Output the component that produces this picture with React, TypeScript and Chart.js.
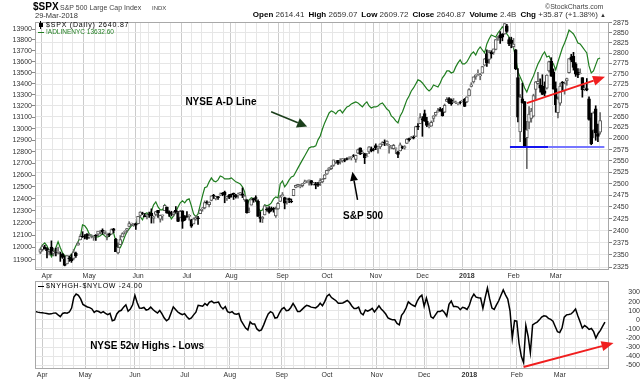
import React, { useEffect, useRef } from 'react';
import { Chart, registerables } from 'chart.js';

Chart.register(...registerables);

const FONT = '"Liberation Sans", Arial, Helvetica, sans-serif';

// ---- calendar ----
const FIRST_DAY = '2017-03-29';
const LAST_DAY = '2018-03-29';
const HOLIDAYS = ['2017-04-14', '2017-05-29', '2017-07-04', '2017-09-04', '2017-11-23', '2017-12-25', '2018-01-01', '2018-01-15', '2018-02-19'];
const SHORT_MONTHS = ['Jan', 'Feb', 'Mar', 'Apr', 'May', 'Jun', 'Jul', 'Aug', 'Sep', 'Oct', 'Nov', 'Dec'];

// ---- $SPX daily OHLC ----
const OPEN = [
  2356, 2361, 2366,
  2363, 2357, 2366, 2353, 2356, 2357, 2354, 2352, 2342, 2332, 2343, 2346, 2343, 2354, 2370, 2381, 2389, 2389, 2393,
  2388, 2391, 2386, 2391, 2393, 2399, 2401, 2396, 2394, 2393, 2393, 2404, 2382, 2354, 2371, 2387, 2397, 2401, 2409, 2414, 2411, 2415,
  2415, 2432, 2437, 2432, 2432, 2434, 2437, 2426, 2434, 2443, 2424, 2431, 2442, 2450, 2439, 2437, 2434, 2443, 2437, 2428, 2442, 2429,
  2431, 2430, 2423, 2414, 2425, 2427, 2436, 2446, 2448, 2460, 2455, 2464, 2475, 2467, 2472, 2477, 2479, 2482, 2469, 2475,
  2477, 2479, 2476, 2476, 2477, 2478, 2465, 2465, 2441, 2454, 2468, 2470, 2462, 2428, 2425, 2433, 2445, 2447, 2444, 2447, 2431, 2446, 2462,
  2474, 2470, 2464, 2468, 2462, 2474, 2492, 2495, 2494, 2496, 2502, 2506, 2507, 2507, 2498, 2500, 2500, 2503, 2504, 2511,
  2521, 2530, 2533, 2540, 2547, 2551, 2549, 2550, 2552, 2555, 2556, 2557, 2562, 2553, 2567, 2579, 2568, 2566, 2560, 2570, 2577, 2576,
  2584, 2579, 2581, 2587, 2592, 2588, 2584, 2580, 2577, 2578, 2569, 2572, 2582, 2579, 2589, 2600, 2600, 2603, 2605, 2628, 2634,
  2645, 2657, 2639, 2627, 2628, 2646, 2653, 2661, 2667, 2665, 2660, 2685, 2692, 2689, 2683, 2683, 2680, 2683, 2687, 2690,
  2684, 2698, 2720, 2731, 2743, 2751, 2745, 2752, 2771, 2799, 2785, 2802, 2802, 2809, 2835, 2845, 2846, 2847, 2867, 2833, 2832,
  2816, 2808, 2741, 2615, 2691, 2685, 2602, 2637, 2646, 2651, 2713, 2727, 2723, 2721, 2710, 2716, 2757, 2780, 2754,
  2715, 2659, 2681, 2730, 2710, 2733, 2753, 2791, 2792, 2774, 2754, 2751, 2741, 2715, 2715, 2691, 2647, 2619, 2668, 2611, 2614.4,
];
const HIGH = [
  2363, 2370, 2370,
  2365, 2361, 2379, 2364, 2364, 2366, 2356, 2353, 2348, 2349, 2348, 2352, 2361, 2356, 2377, 2392, 2398, 2392, 2394,
  2394, 2392, 2390, 2392, 2399, 2401, 2404, 2400, 2395, 2395, 2404, 2405, 2384, 2375, 2390, 2396, 2400, 2405, 2419, 2416, 2415, 2416,
  2430, 2440, 2439, 2436, 2435, 2439, 2446, 2431, 2441, 2443, 2433, 2433, 2454, 2450, 2442, 2441, 2441, 2451, 2441, 2443, 2442, 2432,
  2440, 2434, 2424, 2427, 2432, 2430, 2445, 2449, 2463, 2463, 2461, 2474, 2477, 2473, 2473, 2480, 2481, 2484, 2473, 2477,
  2478, 2480, 2477, 2480, 2481, 2491, 2475, 2466, 2448, 2468, 2469, 2474, 2465, 2440, 2430, 2454, 2449, 2451, 2450, 2449, 2450, 2460, 2475,
  2481, 2471, 2469, 2469, 2467, 2488, 2497, 2498, 2498, 2500, 2508, 2507, 2508, 2507, 2503, 2503, 2503, 2511, 2511, 2520,
  2530, 2535, 2540, 2552, 2550, 2551, 2555, 2555, 2555, 2557, 2559, 2559, 2564, 2563, 2576, 2579, 2573, 2567, 2567, 2582, 2581, 2578,
  2588, 2582, 2588, 2593, 2597, 2595, 2587, 2584, 2587, 2579, 2572, 2590, 2583, 2584, 2600, 2601, 2605, 2606, 2628, 2634, 2657,
  2650, 2665, 2648, 2635, 2640, 2652, 2660, 2669, 2671, 2669, 2679, 2694, 2694, 2691, 2692, 2686, 2682, 2685, 2688, 2692,
  2696, 2715, 2729, 2743, 2748, 2760, 2751, 2768, 2787, 2808, 2807, 2806, 2810, 2833, 2842, 2853, 2848, 2873, 2871, 2838, 2839,
  2836, 2809, 2763, 2701, 2728, 2685, 2639, 2673, 2669, 2702, 2732, 2754, 2738, 2748, 2731, 2748, 2781, 2789, 2762,
  2731, 2696, 2728, 2732, 2731, 2740, 2787, 2797, 2802, 2777, 2763, 2762, 2741, 2724, 2739, 2696, 2658, 2661, 2675, 2633, 2659.1,
];
const LOW = [
  2353, 2358, 2362,
  2344, 2350, 2350, 2348, 2348, 2352, 2337, 2343, 2328, 2332, 2337, 2335, 2340, 2345, 2370, 2381, 2386, 2383, 2382,
  2384, 2385, 2380, 2380, 2389, 2393, 2393, 2393, 2381, 2388, 2393, 2396, 2357, 2352, 2371, 2387, 2393, 2397, 2408, 2411, 2409, 2403,
  2414, 2428, 2434, 2429, 2425, 2428, 2416, 2416, 2431, 2428, 2418, 2422, 2442, 2437, 2430, 2431, 2431, 2437, 2419, 2428, 2405, 2421,
  2428, 2422, 2407, 2414, 2422, 2413, 2436, 2441, 2446, 2456, 2450, 2463, 2468, 2465, 2466, 2474, 2474, 2459, 2464, 2468,
  2471, 2466, 2469, 2469, 2475, 2470, 2462, 2437, 2438, 2454, 2460, 2462, 2430, 2418, 2417, 2433, 2441, 2437, 2441, 2439, 2428, 2445, 2462,
  2473, 2446, 2456, 2459, 2459, 2474, 2491, 2493, 2491, 2493, 2500, 2502, 2497, 2497, 2497, 2489, 2494, 2496, 2502, 2510,
  2520, 2528, 2531, 2538, 2544, 2542, 2543, 2547, 2548, 2552, 2554, 2552, 2559, 2547, 2566, 2564, 2566, 2544, 2559, 2566, 2570, 2572,
  2575, 2567, 2577, 2585, 2584, 2585, 2567, 2577, 2576, 2566, 2557, 2572, 2577, 2576, 2589, 2594, 2600, 2599, 2605, 2620, 2634,
  2605, 2639, 2627, 2624, 2628, 2638, 2651, 2660, 2662, 2651, 2659, 2685, 2680, 2676, 2682, 2680, 2677, 2679, 2684, 2673,
  2682, 2698, 2719, 2728, 2737, 2747, 2736, 2752, 2769, 2768, 2775, 2788, 2797, 2808, 2831, 2824, 2830, 2846, 2851, 2818, 2813,
  2813, 2760, 2638, 2593, 2681, 2581, 2533, 2622, 2637, 2649, 2690, 2725, 2707, 2701, 2698, 2714, 2754, 2744, 2714,
  2660, 2647, 2676, 2711, 2702, 2723, 2752, 2779, 2759, 2744, 2741, 2750, 2695, 2710, 2710, 2642, 2586, 2602, 2596, 2593, 2609.7,
];
const CLOSE = [
  2361.1, 2368.1, 2362.7,
  2358.8, 2360.2, 2353.0, 2357.5, 2355.5, 2357.2, 2353.8, 2344.9, 2329.0, 2349.0, 2342.2, 2338.2, 2355.8, 2348.7, 2374.2, 2388.6, 2387.5, 2388.8, 2384.2,
  2388.3, 2391.2, 2388.1, 2389.5, 2399.3, 2399.4, 2396.9, 2399.6, 2394.4, 2390.9, 2402.3, 2400.7, 2357.0, 2365.7, 2381.7, 2394.0, 2398.4, 2404.4, 2415.1, 2415.8, 2412.9, 2411.8,
  2430.1, 2439.1, 2436.1, 2429.3, 2433.1, 2433.8, 2431.8, 2429.4, 2440.4, 2437.9, 2432.5, 2433.2, 2453.5, 2437.0, 2435.6, 2434.5, 2438.3, 2439.1, 2419.4, 2440.7, 2419.7, 2423.4,
  2429.0, 2432.5, 2409.8, 2425.2, 2427.4, 2425.5, 2443.3, 2447.8, 2459.3, 2459.1, 2460.6, 2473.8, 2473.5, 2472.5, 2469.9, 2477.1, 2477.8, 2475.4, 2472.1, 2470.3,
  2476.4, 2477.6, 2472.2, 2476.8, 2480.9, 2474.9, 2474.0, 2438.2, 2441.3, 2465.8, 2464.6, 2468.1, 2430.0, 2425.6, 2428.4, 2452.5, 2444.0, 2439.0, 2443.1, 2444.2, 2446.3, 2457.6, 2471.7,
  2476.6, 2457.9, 2465.5, 2465.1, 2461.4, 2488.1, 2496.5, 2498.4, 2495.6, 2500.2, 2503.9, 2506.7, 2508.2, 2500.6, 2502.2, 2496.7, 2496.8, 2507.0, 2510.1, 2519.4,
  2529.1, 2534.6, 2537.7, 2552.1, 2549.3, 2544.7, 2550.6, 2555.2, 2550.9, 2553.2, 2557.6, 2559.4, 2561.3, 2562.1, 2575.2, 2565.0, 2569.1, 2557.2, 2560.4, 2581.1, 2572.8, 2575.3,
  2579.4, 2579.9, 2587.8, 2591.1, 2590.6, 2594.4, 2584.6, 2582.3, 2584.8, 2578.9, 2564.6, 2585.6, 2578.9, 2582.1, 2599.0, 2597.1, 2602.4, 2601.4, 2627.0, 2626.1, 2647.6,
  2642.2, 2639.4, 2629.6, 2629.3, 2637.0, 2651.5, 2660.0, 2664.1, 2662.9, 2652.0, 2675.8, 2690.2, 2681.5, 2679.3, 2684.6, 2683.3, 2680.5, 2682.6, 2687.5, 2673.6,
  2695.8, 2713.1, 2724.0, 2743.2, 2747.7, 2751.3, 2748.2, 2767.6, 2786.2, 2776.4, 2802.6, 2798.0, 2810.3, 2833.0, 2839.1, 2837.5, 2839.3, 2872.9, 2853.5, 2822.4, 2823.8,
  2822.0, 2762.1, 2648.9, 2695.1, 2681.7, 2581.0, 2619.6, 2656.0, 2662.9, 2698.6, 2731.2, 2732.2, 2716.3, 2701.3, 2704.0, 2747.3, 2779.6, 2744.3, 2713.8,
  2677.7, 2691.3, 2720.9, 2728.1, 2726.8, 2739.0, 2786.6, 2783.0, 2765.3, 2749.5, 2747.3, 2752.0, 2712.9, 2716.9, 2711.9, 2643.7, 2588.3, 2658.6, 2612.6, 2605.0, 2640.9,
];

// ---- !ADLINENYC ----
const ADLINE = [
  11989, 12021, 12037, 12013, 11973, 11924, 11956, 11997, 12046, 11997,
  11956, 11932, 11924, 11924, 11940, 11973, 12013, 12046, 12086, 12184,
  12176, 12151, 12111, 12094, 12086, 12086, 12086, 12094, 12111, 12094,
  12078, 12094, 12111, 12119, 12046, 12005, 11997, 12037, 12086, 12127,
  12151, 12176, 12184, 12184, 12233, 12250, 12225, 12274, 12283, 12258,
  12299, 12349, 12374, 12332, 12307, 12307, 12349, 12316, 12266, 12233,
  12258, 12291, 12332, 12366, 12383, 12366, 12391, 12399, 12341, 12274,
  12250, 12274, 12349, 12424, 12492, 12500, 12542, 12576, 12550, 12542,
  12559, 12592, 12584, 12567, 12567, 12567, 12576, 12559, 12542, 12534,
  12525, 12500, 12458, 12341, 12391, 12408, 12399, 12391, 12324, 12299,
  12307, 12349, 12341, 12349, 12366, 12399, 12416, 12408, 12525, 12550,
  12500, 12525, 12559, 12584, 12592, 12626, 12661, 12695, 12729, 12763,
  12797, 12832, 12841, 12841, 12850, 12902, 12936, 12997, 13050, 13094,
  13138, 13156, 13147, 13129, 13156, 13165, 13138, 13165, 13191, 13200,
  13218, 13227, 13236, 13227, 13209, 13191, 13218, 13236, 13200, 13182,
  13191, 13191, 13200, 13218, 13227, 13200, 13173, 13156, 13112, 13094,
  13068, 13050, 13112, 13147, 13200, 13254, 13289, 13334, 13361, 13397,
  13434, 13425, 13406, 13379, 13352, 13334, 13352, 13388, 13379, 13370,
  13406, 13452, 13479, 13515, 13515, 13497, 13506, 13552, 13588, 13616,
  13579, 13579, 13597, 13634, 13671, 13689, 13661, 13707, 13735, 13707,
  13680, 13763, 13809, 13846, 13837, 13828, 13865, 13893, 13922, 13893,
  13856, 13828, 13781, 13726, 13634, 13506, 13461, 13415, 13361, 13325,
  13379, 13425, 13470, 13525, 13579, 13616, 13661, 13689, 13643, 13652,
  13606, 13579, 13525, 13597, 13661, 13726, 13772, 13828, 13893, 13875,
  13856, 13819, 13772, 13763, 13735, 13707, 13680, 13561, 13497, 13515,
  13570, 13625, 13633,
];

// ---- $NYHGH-$NYLOW ----
const HIGHS_LOWS = [
  91, 85, 80, 77, 74, 70, 65, 66, 74, 76,
  55, 36, 70, 78, 73, 86, 130, 250, 284, 270,
  230, 170, 155, 142, 135, 120, 82, 100, 92, 77,
  91, 72, 58, 72, -10, 0, 65, 95, 105, 140,
  165, 95, 118, 165, 270, 190, 130, 128, 136, 108,
  115, 140, 113, 92, 75, 104, 65, 20, -10, 9,
  75, 143, 115, 86, 70, 56, 68, 35, 8, 22,
  55, 85, 160, 155, 150, 180, 160, 195, 205, 185,
  192, 195, 145, 120, 146, 90, 80, 90, 66, 62,
  70, -10, -50, -90, -110, -22, -45, -45, -100, -120,
  -110, -55, 10, 65, 90, 76, 20, 25, 78, 118,
  135, 100, 105, 136, 180, 140, 91, 91, 115, 140,
  160, 152, 140, 135, 132, 150, 183, 156, 200, 260,
  280, 245, 227, 210, 183, 183, 186, 199, 214, 190,
  152, 125, 125, 140, 75, 55, 108, 95, 108, 127,
  88, 120, 155, 120, 95, 64, 22, 10, 0, 0,
  -40, -55, 50, 82, 130, 198, 176, 160, 148, 210,
  250, 272, 150, 240, 150, 33, 18, 55, 91, 91,
  105, 80, 40, 170, 207, 146, 146, 140, 112, 138,
  130, 115, 160, 240, 282, 250, 242, 240, 125, 245,
  350, 230, 130, 115, 165, 210, 270, 329, 274, 228,
  100, -200, -10, -15, -260, -400, -470, -60, -180, -360,
  -55, -38, -25, 0, 30, 45, 40, 17, 5, -15,
  -73, -130, -140, -90, 30, 55, 58, 65, 90, 120,
  45, -20, -91, -63, -80, -105, -95, -130, -200, -150,
  -115, -70, -24,
];

// ---- axes ----
const SPX_TICKS = [2325, 2350, 2375, 2400, 2425, 2450, 2475, 2500, 2525, 2550, 2575, 2600, 2625, 2650, 2675, 2700, 2725, 2750, 2775, 2800, 2825, 2850, 2875];
const AD_TICKS = [11900, 12000, 12100, 12200, 12300, 12400, 12500, 12600, 12700, 12800, 12900, 13000, 13100, 13200, 13300, 13400, 13500, 13600, 13700, 13800, 13900];
const HL_TICKS = [-500, -400, -300, -200, -100, 0, 100, 200, 300];
const SPX_RANGE = [2319.6, 2876.7];
const AD_RANGE = [11819, 13968];
const HL_RANGE = [-540, 427];
const X_RANGE = [-0.2, 253.8];

// ---- annotations (trading-day index, value) ----
const TOP_NOTES: any[] = [
  { kind: 'text', at: [65.3, 2683], text: 'NYSE A-D Line' },
  { kind: 'arrow', from: [103.9, 2661], to: [120.1, 2627], color: '#1c3f1c', width: 1.6, head: 10, half: 5 },
  { kind: 'text', at: [136.3, 2431], text: 'S&P 500' },
  { kind: 'arrow', from: [142.8, 2465], to: [140.5, 2526], color: '#000000', width: 1.5, head: 9, half: 4 },
  { kind: 'hline', from: 211.4, to: 228.7, y: 2581, color: '#1414ee', width: 2 },
  { kind: 'hline', from: 228.7, to: 253.9, y: 2581, color: '#7676ff', width: 2 },
  { kind: 'arrow', from: [219, 2681], to: [254.2, 2743], color: '#f01e1e', width: 2, head: 12, half: 5 },
];
const BOTTOM_NOTES: any[] = [
  { kind: 'text', at: [24.2, -292], text: 'NYSE 52w Highs - Lows' },
  { kind: 'arrow', from: [216, -518], to: [255.8, -255], color: '#f01e1e', width: 2, head: 12, half: 5 },
];

function buildDays(): Date[] {
  const out: Date[] = [];
  const d = new Date(FIRST_DAY + 'T00:00:00Z');
  const end = new Date(LAST_DAY + 'T00:00:00Z');
  while (d.getTime() <= end.getTime()) {
    const wd = d.getUTCDay();
    const iso = d.toISOString().slice(0, 10);
    if (wd !== 0 && wd !== 6 && !HOLIDAYS.includes(iso)) out.push(new Date(d.getTime()));
    d.setUTCDate(d.getUTCDate() + 1);
  }
  return out;
}
const DAYS = buildDays();
const MONTH_LABELS = new Map<number, string>();
const X_TICKS: number[] = [];
DAYS.forEach((d, i) => {
  if (i === 0) return;
  const p = DAYS[i - 1];
  const newMonth = d.getUTCMonth() !== p.getUTCMonth();
  const newWeek = d.getUTCDay() < p.getUTCDay();
  if (newMonth) MONTH_LABELS.set(i, d.getUTCMonth() === 0 ? String(d.getUTCFullYear()) : SHORT_MONTHS[d.getUTCMonth()]);
  if (newMonth || newWeek) X_TICKS.push(i);
});

function drawArrow(ctx: CanvasRenderingContext2D, x1: number, y1: number, x2: number, y2: number, color: string, width: number, head: number, half: number) {
  const ang = Math.atan2(y2 - y1, x2 - x1);
  const bx = x2 - head * Math.cos(ang);
  const by = y2 - head * Math.sin(ang);
  ctx.strokeStyle = color;
  ctx.lineWidth = width;
  ctx.beginPath();
  ctx.moveTo(x1, y1);
  ctx.lineTo(bx, by);
  ctx.stroke();
  ctx.fillStyle = color;
  ctx.beginPath();
  ctx.moveTo(x2, y2);
  ctx.lineTo(bx + half * Math.sin(ang), by - half * Math.cos(ang));
  ctx.lineTo(bx - half * Math.sin(ang), by + half * Math.cos(ang));
  ctx.closePath();
  ctx.fill();
}

function makeNotesPlugin(notes: any[], yId: string) {
  return {
    id: 'notes_' + yId,
    afterDatasetsDraw(chart: any) {
      const ctx: CanvasRenderingContext2D = chart.ctx;
      const xs = chart.scales.x;
      const ys = chart.scales[yId];
      const a = chart.chartArea;
      ctx.save();
      ctx.strokeStyle = '#a8a8a8';
      ctx.lineWidth = 1;
      ctx.strokeRect(Math.round(a.left) + 0.5, Math.round(a.top) + 0.5, Math.round(a.right - a.left) - 1, Math.round(a.bottom - a.top) - 1);
      for (const n of notes) {
        if (n.kind === 'text') {
          ctx.font = 'bold 10px ' + FONT;
          ctx.fillStyle = '#000';
          ctx.textAlign = 'left';
          ctx.textBaseline = 'middle';
          ctx.fillText(n.text, xs.getPixelForValue(n.at[0]), ys.getPixelForValue(n.at[1]));
        } else if (n.kind === 'arrow') {
          drawArrow(ctx, xs.getPixelForValue(n.from[0]), ys.getPixelForValue(n.from[1]), xs.getPixelForValue(n.to[0]), ys.getPixelForValue(n.to[1]), n.color, n.width, n.head, n.half);
        } else if (n.kind === 'hline') {
          const y = ys.getPixelForValue(n.y);
          ctx.strokeStyle = n.color;
          ctx.lineWidth = n.width;
          ctx.beginPath();
          ctx.moveTo(xs.getPixelForValue(n.from), y);
          ctx.lineTo(xs.getPixelForValue(n.to), y);
          ctx.stroke();
        }
      }
      ctx.restore();
    },
  };
}

function xScale(height: number) {
  return {
    type: 'linear',
    min: X_RANGE[0],
    max: X_RANGE[1],
    bounds: 'data',
    afterBuildTicks: (s: any) => { s.ticks = X_TICKS.map((v) => ({ value: v })); },
    afterFit: (s: any) => { s.height = height; },
    grid: {
      color: (c: any) => (c.tick && MONTH_LABELS.has(c.tick.value) ? '#cbcbcb' : '#e6e6e6'),
      drawTicks: false,
      lineWidth: 1,
    },
    border: { display: false },
    ticks: {
      autoSkip: false,
      maxRotation: 0,
      minRotation: 0,
      padding: 2,
      color: '#333',
      font: (c: any) => ({ family: FONT, size: 7, weight: c.tick && MONTH_LABELS.get(c.tick.value) === '2018' ? 'bold' : 'normal' }),
      callback: (v: any) => MONTH_LABELS.get(v) ?? '',
    },
  };
}

export default function App() {
  const topRef = useRef<HTMLCanvasElement>(null);
  const botRef = useRef<HTMLCanvasElement>(null);

  useEffect(() => {
    const up = CLOSE.map((c, i) => c >= OPEN[i]);
    const top = new Chart(topRef.current as HTMLCanvasElement, {
      type: 'bar',
      data: {
        datasets: [
          {
            type: 'line',
            data: ADLINE.map((v, i) => ({ x: i, y: v })),
            yAxisID: 'yAD',
            borderColor: '#1f7d1f',
            borderWidth: 1.2,
            pointRadius: 0,
            tension: 0,
            order: 3,
          } as any,
          {
            type: 'bar',
            data: CLOSE.map((_c, i) => ({ x: i, y: [LOW[i], HIGH[i]] })),
            yAxisID: 'y',
            barThickness: 1,
            grouped: false,
            backgroundColor: up.map((u) => (u ? '#6a6a6a' : '#000000')),
            borderWidth: 0,
            order: 2,
          } as any,
          {
            type: 'bar',
            data: CLOSE.map((c, i) => ({ x: i, y: [OPEN[i], c] })),
            yAxisID: 'y',
            barThickness: 3,
            grouped: false,
            backgroundColor: up.map((u) => (u ? '#ffffff' : '#000000')),
            borderColor: up.map((u) => (u ? '#5a5a5a' : '#000000')),
            borderWidth: 1,
            borderSkipped: false,
            order: 1,
          } as any,
        ],
      },
      options: {
        animation: false,
        responsive: false,
        devicePixelRatio: 1,
        events: [],
        layout: { padding: { top: 22, left: 0, right: 0, bottom: 0 } },
        plugins: { legend: { display: false }, tooltip: { enabled: false }, title: { display: false } },
        scales: {
          x: xScale(12) as any,
          y: {
            type: 'logarithmic',
            position: 'right',
            min: SPX_RANGE[0],
            max: SPX_RANGE[1],
            bounds: 'data',
            afterBuildTicks: (s: any) => { s.ticks = SPX_TICKS.map((v) => ({ value: v })); },
            afterFit: (s: any) => { s.width = 31; },
            grid: { color: '#e6e6e6', tickLength: 3, tickColor: '#888' },
            border: { display: false },
            ticks: { autoSkip: false, padding: 1, color: '#333', font: { family: FONT, size: 7 }, callback: (v: any) => String(v) },
          } as any,
          yAD: {
            type: 'logarithmic',
            position: 'left',
            min: AD_RANGE[0],
            max: AD_RANGE[1],
            bounds: 'data',
            afterBuildTicks: (s: any) => { s.ticks = AD_TICKS.map((v) => ({ value: v })); },
            afterFit: (s: any) => { s.width = 35; },
            grid: { drawOnChartArea: false, tickLength: 3, tickColor: '#888' },
            border: { display: false },
            ticks: { autoSkip: false, padding: 0, color: '#333', font: { family: FONT, size: 7 }, callback: (v: any) => String(v) },
          } as any,
        },
      },
      plugins: [makeNotesPlugin(TOP_NOTES, 'y')],
    });

    const bottom = new Chart(botRef.current as HTMLCanvasElement, {
      type: 'line',
      data: {
        datasets: [
          {
            data: HIGHS_LOWS.map((v, i) => ({ x: i, y: v })),
            yAxisID: 'y',
            borderColor: '#000000',
            borderWidth: 1.5,
            pointRadius: 0,
            tension: 0,
          },
        ],
      },
      options: {
        animation: false,
        responsive: false,
        devicePixelRatio: 1,
        events: [],
        layout: { padding: { top: 11, left: 35, right: 0, bottom: 0 } },
        plugins: { legend: { display: false }, tooltip: { enabled: false } },
        scales: {
          x: xScale(11) as any,
          y: {
            type: 'linear',
            position: 'right',
            min: HL_RANGE[0],
            max: HL_RANGE[1],
            bounds: 'data',
            afterBuildTicks: (s: any) => { s.ticks = HL_TICKS.map((v) => ({ value: v })); },
            afterFit: (s: any) => { s.width = 31; },
            grid: { color: '#e6e6e6', drawTicks: false },
            border: { display: false },
            ticks: { autoSkip: false, padding: 1, crossAlign: 'far', color: '#333', font: { family: FONT, size: 7 }, callback: (v: any) => String(v) },
          } as any,
        },
      },
      plugins: [makeNotesPlugin(BOTTOM_NOTES, 'y')],
    });

    return () => {
      top.destroy();
      bottom.destroy();
    };
  }, []);

  const abs = (left: number, top: number, extra: React.CSSProperties = {}): React.CSSProperties => ({
    position: 'absolute', left, top, whiteSpace: 'nowrap', lineHeight: 1, fontFamily: FONT, ...extra,
  });
  const lbl: React.CSSProperties = { color: '#000', fontWeight: 'bold', marginLeft: 4 };

  return (
    <div style={{ position: 'fixed', left: 0, top: 0, width: 640, height: 380, background: '#fff', overflow: 'hidden' }}>
      <canvas ref={topRef} width={640} height={282} style={{ position: 'absolute', left: 0, top: 0, width: 640, height: 282 }} />
      <canvas ref={botRef} width={640} height={110} style={{ position: 'absolute', left: 0, top: 270, width: 640, height: 110 }} />

      <div style={abs(33, 1.7, { fontSize: 10, fontWeight: 'bold', color: '#000' })}>$SPX</div>
      <div style={abs(60, 4.2, { fontSize: 7, color: '#444' })}>S&amp;P 500 Large Cap Index</div>
      <div style={abs(152, 4.9, { fontSize: 6, color: '#444' })}>INDX</div>
      <div style={abs(35, 11.7, { fontSize: 7.5, color: '#333' })}>29-Mar-2018</div>
      <div style={abs(545, 2.8, { fontSize: 7, color: '#444' })}>©StockCharts.com</div>
      <div style={abs(0, 11.2, { fontSize: 8, color: '#333', width: 606, textAlign: 'right' })}>
        <span style={lbl}>Open</span> 2614.41
        <span style={lbl}>High</span> 2659.07
        <span style={lbl}>Low</span> 2609.72
        <span style={lbl}>Close</span> 2640.87
        <span style={lbl}>Volume</span> 2.4B
        <span style={lbl}>Chg</span> +35.87 (+1.38%) <span style={{ fontSize: 6 }}>▲</span>
      </div>

      <div style={{ position: 'absolute', left: 40, top: 21, width: 1, height: 8, background: '#000' }} />
      <div style={{ position: 'absolute', left: 38.5, top: 22.5, width: 4, height: 4, background: '#000' }} />
      <div style={abs(46, 21.4, { fontSize: 7, color: '#000', letterSpacing: 0.8 })}>$SPX (Daily) 2640.87</div>
      <div style={{ position: 'absolute', left: 38, top: 31.5, width: 6, height: 1.5, background: '#1f7d1f' }} />
      <div style={abs(46, 28.6, { fontSize: 6.5, color: '#1f7d1f' })}>!ADLINENYC 13632.60</div>

      <div style={{ position: 'absolute', left: 38, top: 285.5, width: 6, height: 1.5, background: '#000' }} />
      <div style={abs(46, 282.4, { fontSize: 7, color: '#000', letterSpacing: 0.7 })}>$NYHGH-$NYLOW -24.00</div>
    </div>
  );
}
